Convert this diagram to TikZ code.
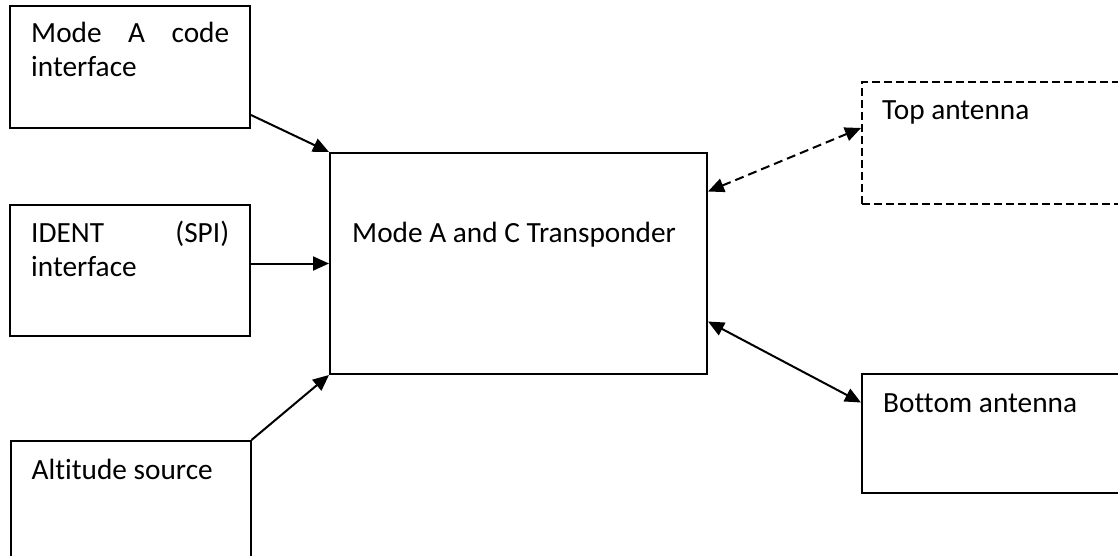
\documentclass[tikz,border=0pt]{standalone}
\usepackage{fontspec}
\setmainfont{Carlito}[Ligatures=NoCommon]
\usetikzlibrary{arrows.meta}

\tikzset{
  block/.style={draw, line width=2pt, inner sep=0pt, minimum width=240pt, minimum height=122pt},
  boxtext/.style={anchor=base west, inner sep=0pt, text width=198pt, align=flush left, font=\fontsize{29.3}{34}\selectfont},
  link/.style={line width=2pt, -{Triangle[length=16pt,width=14pt]}},
  duplex/.style={line width=2pt, {Triangle[length=16pt,width=14pt]}-{Triangle[length=16pt,width=14pt]}}
}

\begin{document}
\begin{tikzpicture}[x=1pt,y=-1pt]
	\useasboundingbox (0,0) rectangle (1118,555);
	\clip (0,0) rectangle (1118,555);
	% boxes
	\node[block] (modea) at (130,67) {};
	\node[block, minimum height=131pt] (ident) at (130,270.5) {};
	\node[block, minimum height=131pt] (alt) at (130.5,506.5) {};
	\node[block, minimum width=377pt, minimum height=221pt] (xpdr) at (518.5,263.5) {};
	\node[block, dash pattern=on 8pt off 4pt, minimum width=260pt] (topant) at (992,143) {};
	\node[block, minimum width=260pt, minimum height=119pt] (botant) at (992,433.5) {};
	% texts
	\node[boxtext] (modeatext) at ([shift={(22pt,-37pt)}]modea.north west) {Mode\hfill A\hfill code\\interface};
	\node[boxtext] (identtext) at ([shift={(22pt,-38pt)}]ident.north west) {IDENT\hfill (SPI)\\interface};
	\node[boxtext] (alttext) at ([shift={(22pt,-39pt)}]alt.north west) {Altitude source};
	\node[boxtext, text width=340pt] (xpdrtext) at ([shift={(23pt,-90pt)}]xpdr.north west) {Mode A and C Transponder};
	\node[boxtext] (topanttext) at ([shift={(21pt,-38pt)}]topant.north west) {Top antenna};
	\node[boxtext] (botanttext) at ([shift={(22pt,-39pt)}]botant.north west) {Bottom antenna};
	% connectors
	\draw[link] ([yshift=14pt]modea.south east) -- (xpdr.north west);
	\draw[link] (ident.east |- xpdr.west) -- (xpdr.west);
	\draw[link] (alt.north east) -- (xpdr.south west);
	\draw[duplex, dash pattern=on 9pt off 5pt] ([yshift=72pt]xpdr.east) -- ([yshift=15pt]topant.west);
	\draw[duplex] ([yshift=-58pt]xpdr.east) -- ([yshift=31pt]botant.west);
\end{tikzpicture}
\end{document}
